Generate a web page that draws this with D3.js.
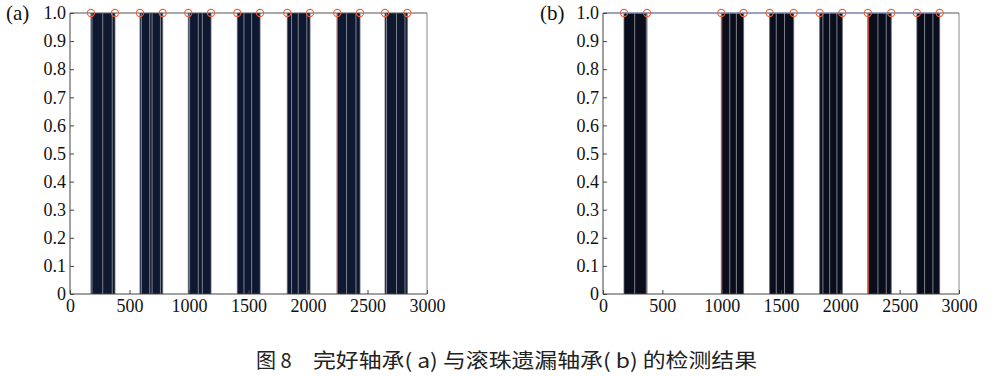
<!DOCTYPE html>
<html>
<head>
<meta charset="utf-8">
<script src="https://cdn.jsdelivr.net/npm/d3@7"></script>
<style>
    body { margin: 0; background: #fff; }
    svg { display: block; }
    .axis path, .axis line { stroke: #444; }
</style>
</head>
<body>
<svg id="chart" width="998" height="376"></svg>
<script>
// detected segments (start, end) on the sample axis
const segmentsA = [[176, 378], [588, 779], [994, 1185], [1406, 1597], [1826, 2017], [2246, 2437], [2647, 2835]];
const segmentsB = [[177, 371], [997, 1185], [1404, 1607], [1826, 2017], [2232, 2429], [2645, 2837]];

// lighter stems inside the dark bands
const grayA = [185, 275, 355, 600, 670, 690, 760, 1005, 1078, 1112, 1462, 1526, 1862, 1918, 1990, 2324, 2403, 2660, 2744, 2815];
const grayB = [267, 365, 1068, 1124, 1460, 1530, 1853, 1910, 1971, 2317, 2387, 2710, 2780];

// red marker lines
const redA = [2246];
const redB = [1000, 2235];

const xTicks = [0, 500, 1000, 1500, 2000, 2500, 3000];
const yTicks = [0, 0.1, 0.2, 0.3, 0.4, 0.5, 0.6, 0.7, 0.8, 0.9, 1.0];

const captionHead = "图 8";
const captionBody = "完好轴承( a) 与滚珠遗漏轴承( b) 的检测结果";

const serif = "Liberation Serif";
const svg = d3.select("#chart");

function drawPanel(opts) {
    const x = d3.scaleLinear().domain([0, 3000]).range([opts.left, opts.right]);
    const y = d3.scaleLinear().domain([0, 1]).range([294, 13]);
    const g = svg.append("g");

    // dark bands
    g.selectAll("rect.band")
        .data(opts.segments)
        .enter()
        .append("rect")
        .attr("class", "band")
        .attr("x", d => x(d[0]))
        .attr("y", y(1))
        .attr("width", d => x(d[1]) - x(d[0]))
        .attr("height", y(0) - y(1))
        .attr("fill", opts.barColor);

    // band edges slightly lighter
    g.selectAll("line.edge")
        .data(opts.segments.flat())
        .enter()
        .append("line")
        .attr("x1", d => x(d)).attr("x2", d => x(d))
        .attr("y1", y(1)).attr("y2", y(0))
        .attr("stroke", "#5a6478")
        .attr("stroke-width", 0.8);

    g.selectAll("line.gray")
        .data(opts.gray)
        .enter()
        .append("line")
        .attr("x1", d => x(d)).attr("x2", d => x(d))
        .attr("y1", y(1)).attr("y2", y(0))
        .attr("stroke", "#80808a")
        .attr("stroke-width", 1);

    g.selectAll("line.red")
        .data(opts.red)
        .enter()
        .append("line")
        .attr("x1", d => x(d)).attr("x2", d => x(d))
        .attr("y1", y(1)).attr("y2", y(0))
        .attr("stroke", opts.redColor)
        .attr("stroke-width", 1.2);

    // frame: top and right
    g.append("line")
        .attr("x1", x(0)).attr("x2", x(3000))
        .attr("y1", y(1)).attr("y2", y(1))
        .attr("stroke", "#555");
    g.append("line")
        .attr("x1", x(3000)).attr("x2", x(3000))
        .attr("y1", y(1)).attr("y2", y(0))
        .attr("stroke", "#888");

    if (opts.topLine) {
        const last = opts.segments[opts.segments.length - 1][1];
        g.append("line")
            .attr("x1", x(0)).attr("x2", x(last))
            .attr("y1", y(1)).attr("y2", y(1))
            .attr("stroke", opts.topLine)
            .attr("stroke-width", 1.2);
    }

    const yAxis = d3.axisLeft(y)
        .tickValues(yTicks)
        .tickSize(-4)
        .tickPadding(4)
        .tickFormat(d => d === 0 ? "0" : d3.format(".1f")(d));
    g.append("g")
        .attr("class", "axis")
        .attr("transform", `translate(${x(0)},0)`)
        .call(yAxis)
        .attr("font-family", serif)
        .attr("font-size", 18)
        .call(s => s.select(".domain").attr("d", `M0,${y(0)}V${y(1)}`));

    const xAxis = d3.axisBottom(x)
        .tickValues(xTicks)
        .tickSize(-4)
        .tickPadding(5)
        .tickFormat(d3.format("d"));
    g.append("g")
        .attr("class", "axis")
        .attr("transform", `translate(0,${y(0)})`)
        .call(xAxis)
        .attr("font-family", serif)
        .attr("font-size", 18)
        .call(s => s.select(".domain").attr("d", `M${x(0)},0H${x(3000)}`));

    g.selectAll(".axis text").attr("fill", "#111");

    // end markers
    g.selectAll("circle")
        .data(opts.segments.flat())
        .enter()
        .append("circle")
        .attr("cx", d => x(d))
        .attr("cy", y(1))
        .attr("r", 3.6)
        .attr("fill", "none")
        .attr("stroke", "#e8653f")
        .attr("stroke-width", 1.1);

    g.append("text")
        .attr("x", opts.labelX)
        .attr("y", 20)
        .attr("font-family", serif)
        .attr("font-size", 21)
        .attr("fill", "#111")
        .text(opts.label);
}

drawPanel({
    left: 70, right: 427, segments: segmentsA, gray: grayA, red: redA,
    barColor: "#0e1830", redColor: "#b0503e", label: "(a)", labelX: 6, topLine: null
});
drawPanel({
    left: 603, right: 959, segments: segmentsB, gray: grayB, red: redB,
    barColor: "#090d1c", redColor: "#e0502e", label: "(b)", labelX: 540, topLine: "#8a9ad0"
});

const cap = svg.append("g")
    .attr("font-family", "Noto Sans CJK SC")
    .attr("font-size", 20)
    .attr("fill", "#222");
cap.append("text")
    .attr("x", 256)
    .attr("y", 368)
    .text(captionHead);
cap.append("text")
    .attr("x", 313)
    .attr("y", 368)
    .attr("textLength", 444)
    .attr("lengthAdjust", "spacingAndGlyphs")
    .text(captionBody);
</script>
</body>
</html>
